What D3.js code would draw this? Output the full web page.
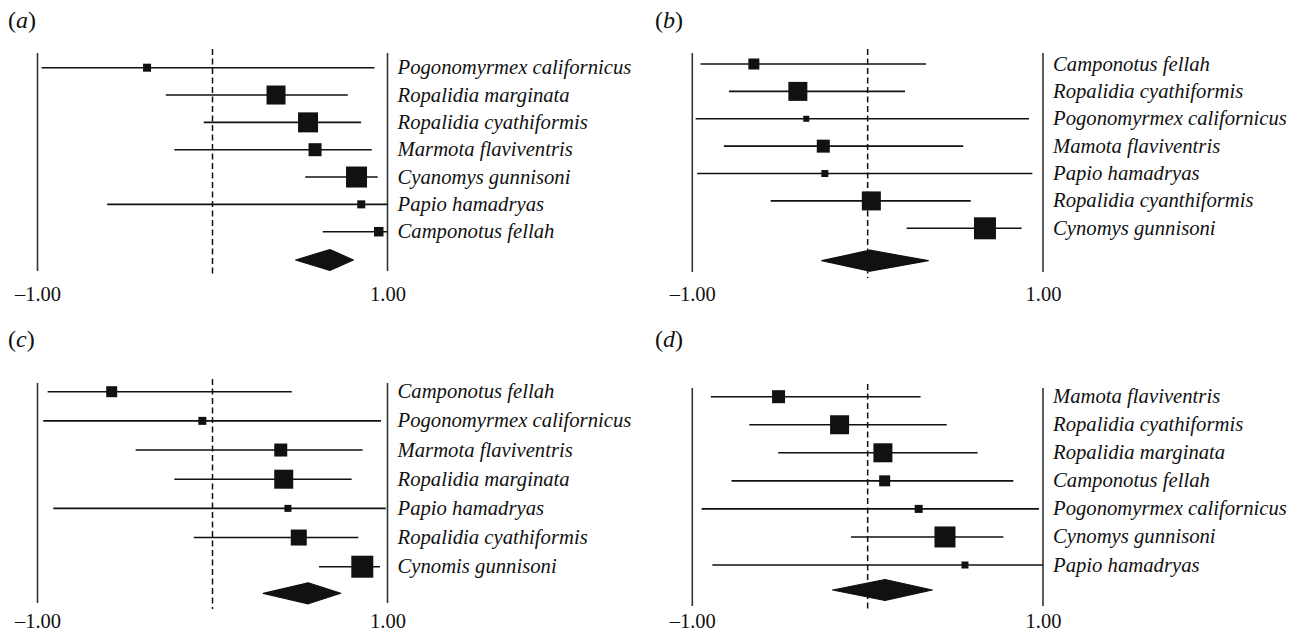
<!DOCTYPE html>
<html>
<head>
<meta charset="utf-8">
<script src="https://cdn.jsdelivr.net/npm/d3@7"></script>
<style>
  html, body { margin: 0; padding: 0; background: #fff; }
  svg { display: block; }
  text { font-family: "Liberation Serif", "Times New Roman", serif; fill: #111; }
</style>
</head>
<body>
<svg id="chart" width="1304" height="634"></svg>
<script>
// ---------- DATA ----------
const panelLetters = ["a", "b", "c", "d"];
const tickValues = [-1, 1];
const tickLabels = ["\u20131.00", "1.00"];

const speciesA = ["Pogonomyrmex californicus", "Ropalidia marginata", "Ropalidia cyathiformis", "Marmota flaviventris", "Cyanomys gunnisoni", "Papio hamadryas", "Camponotus fellah"];
const estA = [-0.374, 0.363, 0.546, 0.586, 0.823, 0.850, 0.950];
const loA = [-0.976, -0.267, -0.050, -0.218, 0.530, -0.602, 0.630];
const hiA = [0.925, 0.773, 0.849, 0.910, 0.944, 1.000, 1.000];
const weightA = [8, 19, 20, 13, 21, 8, 9.5];
const pooledA = [0.475, 0.671, 0.805]; // lo, est, hi

const speciesB = ["Camponotus fellah", "Ropalidia cyathiformis", "Pogonomyrmex californicus", "Mamota flaviventris", "Papio hamadryas", "Ropalidia cyanthiformis", "Cynomys gunnisoni"];
const estB = [-0.649, -0.398, -0.350, -0.253, -0.244, 0.021, 0.669];
const loB = [-0.953, -0.791, -0.981, -0.820, -0.972, -0.553, 0.222];
const hiB = [0.333, 0.213, 0.920, 0.545, 0.939, 0.588, 0.878];
const weightB = [11, 19, 6, 13, 7, 19, 22];
const pooledB = [-0.262, 0.013, 0.346];

const speciesC = ["Camponotus fellah", "Pogonomyrmex californicus", "Marmota flaviventris", "Ropalidia marginata", "Papio hamadryas", "Ropalidia cyathiformis", "Cynomis gunnisoni"];
const estC = [-0.576, -0.058, 0.390, 0.407, 0.431, 0.493, 0.856];
const loC = [-0.942, -0.967, -0.439, -0.218, -0.910, -0.107, 0.609];
const hiC = [0.453, 0.963, 0.858, 0.795, 0.990, 0.833, 0.957];
const weightC = [11, 8, 13, 19, 7, 16, 22];
const pooledC = [0.290, 0.547, 0.733];

const speciesD = ["Mamota flaviventris", "Ropalidia cyathiformis", "Ropalidia marginata", "Camponotus fellah", "Pogonomyrmex californicus", "Cynomys gunnisoni", "Papio hamadryas"];
const estD = [-0.508, -0.160, 0.087, 0.097, 0.291, 0.441, 0.555];
const loD = [-0.894, -0.675, -0.510, -0.776, -0.947, -0.095, -0.886];
const hiD = [0.302, 0.451, 0.627, 0.831, 0.977, 0.774, 1.000];
const weightD = [13, 19, 19, 11, 8, 21, 7];
const pooledD = [-0.200, 0.099, 0.369];

// ---------- LAYOUT (not data) ----------
const layouts = [
  { left: 37.5,  right: 387.5, axTop: 53,  axBot: 271, firstRow: 67.7,  lastRow: 231.7, diamondY: 260,   labelY: 28,  tickY: 298 },
  { left: 692.3, right: 1043,  axTop: 53,  axBot: 272, firstRow: 64,    lastRow: 228.3, diamondY: 260.7, labelY: 28,  tickY: 298 },
  { left: 37.5,  right: 387.5, axTop: 383, axBot: 603, firstRow: 391.7, lastRow: 566.7, diamondY: 593.3, labelY: 347, tickY: 625 },
  { left: 692.3, right: 1043,  axTop: 388, axBot: 606, firstRow: 396.7, lastRow: 565,   diamondY: 590,   labelY: 347, tickY: 625 }
];
const labelX = [8, 655, 8, 655];

const panels = [
  { species: speciesA, est: estA, lo: loA, hi: hiA, w: weightA, pooled: pooledA },
  { species: speciesB, est: estB, lo: loB, hi: hiB, w: weightB, pooled: pooledB },
  { species: speciesC, est: estC, lo: loC, hi: hiC, w: weightC, pooled: pooledC },
  { species: speciesD, est: estD, lo: loD, hi: hiD, w: weightD, pooled: pooledD }
];

const svg = d3.select("#chart");
const ink = "#111";
const sizeScale = d3.scaleLinear().domain([0, 22]).range([0, 22]);
const fontFam = '"Liberation Serif", "Times New Roman", serif';

panels.forEach((p, i) => {
  const L = layouts[i];
  const g = svg.append("g");
  const x = d3.scaleLinear().domain([-1, 1]).range([L.left, L.right]);
  const y = d3.scaleLinear().domain([0, p.species.length - 1]).range([L.firstRow, L.lastRow]);

  // panel letter
  const lt = g.append("text").attr("x", labelX[i]).attr("y", L.labelY).attr("font-size", 24);
  lt.append("tspan").text("(");
  lt.append("tspan").attr("font-style", "italic").text(panelLetters[i]);
  lt.append("tspan").text(")");

  // vertical frame lines at -1 and 1
  g.selectAll("line.frame").data(tickValues).enter().append("line")
    .attr("x1", d => x(d)).attr("x2", d => x(d))
    .attr("y1", L.axTop).attr("y2", L.axBot)
    .attr("stroke", "#333").attr("stroke-width", 1.6);

  // dashed zero line
  g.append("line")
    .attr("x1", x(0)).attr("x2", x(0))
    .attr("y1", L.axTop - 4).attr("y2", L.axBot + 6)
    .attr("stroke", ink).attr("stroke-width", 1.5)
    .attr("stroke-dasharray", "6,3.5");

  // tick labels via axis
  const axis = d3.axisBottom(x).tickValues(tickValues).tickSize(0)
    .tickFormat((d, k) => tickLabels[k]);
  const ag = g.append("g").attr("transform", `translate(0,${L.tickY - 15})`).call(axis);
  ag.select(".domain").remove();
  ag.selectAll("text").attr("font-size", 20.5).attr("fill", ink).style("font-family", fontFam);

  // CI lines
  g.selectAll("line.ci").data(p.species).enter().append("line")
    .attr("x1", (d, k) => x(p.lo[k])).attr("x2", (d, k) => x(p.hi[k]))
    .attr("y1", (d, k) => y(k)).attr("y2", (d, k) => y(k))
    .attr("stroke", ink).attr("stroke-width", 1.6);

  // squares
  g.selectAll("rect.pt").data(p.species).enter().append("rect")
    .attr("x", (d, k) => x(p.est[k]) - sizeScale(p.w[k]) / 2)
    .attr("y", (d, k) => y(k) - sizeScale(p.w[k]) / 2)
    .attr("width", (d, k) => sizeScale(p.w[k]))
    .attr("height", (d, k) => sizeScale(p.w[k]))
    .attr("fill", ink);

  // pooled diamond
  const dh = 10.5;
  const pts = [[x(p.pooled[0]), L.diamondY], [x(p.pooled[1]), L.diamondY - dh], [x(p.pooled[2]), L.diamondY], [x(p.pooled[1]), L.diamondY + dh]];
  g.append("polygon").attr("points", pts.map(q => q.join(",")).join(" "))
    .attr("fill", ink).attr("stroke", ink).attr("stroke-width", 1.2).attr("stroke-linejoin", "round");

  // species labels
  g.selectAll("text.sp").data(p.species).enter().append("text")
    .attr("x", L.right + 10).attr("y", (d, k) => y(k) + 6.5)
    .attr("font-size", 20.7).attr("font-style", "italic")
    .text(d => d);
});
</script>
</body>
</html>
